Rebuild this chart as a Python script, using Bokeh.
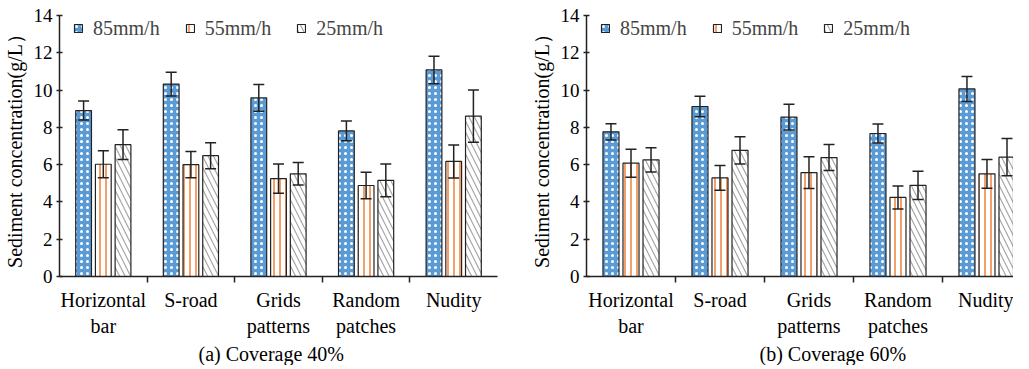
from bokeh.plotting import figure
from bokeh.models import (Range1d, FixedTicker, Whisker, TeeHead, ColumnDataSource,
                          Legend, LegendItem, LinearAxis, Title)
from bokeh.layouts import row
from bokeh.embed import file_html
from bokeh.resources import INLINE

# ---------------- data ----------------
categories = ["Horizontal\nbar", "S-road", "Grids\npatterns", "Random\npatches", "Nudity"]
series = ["85mm/h", "55mm/h", "25mm/h"]

a85 = [8.9, 10.32, 9.58, 7.81, 11.08]
a85_err = [0.51, 0.64, 0.72, 0.53, 0.74]
a55 = [6.02, 6.0, 5.25, 4.88, 6.17]
a55_err = [0.72, 0.7, 0.78, 0.71, 0.88]
a25 = [7.07, 6.48, 5.51, 5.16, 8.6]
a25_err = [0.8, 0.7, 0.6, 0.88, 1.4]

b85 = [7.76, 9.12, 8.55, 7.67, 10.06]
b85_err = [0.44, 0.55, 0.69, 0.51, 0.67]
b55 = [6.08, 5.29, 5.57, 4.24, 5.51]
b55_err = [0.75, 0.66, 0.85, 0.62, 0.77]
b25 = [6.26, 6.77, 6.38, 4.89, 6.4]
b25_err = [0.65, 0.73, 0.7, 0.76, 1.0]

titles = ["(a) Coverage 40%", "(b) Coverage 60%"]

FONT = "Liberation Serif"
BLUE = "#5b9bd5"
ORANGE = "#f4a06a"
GRAY = "#a6a6a6"
INK = "#222222"

styles = [
    dict(fill_color=BLUE, hatch_pattern="dot", hatch_color="white", hatch_scale=6, hatch_weight=0.9),
    dict(fill_color="white", hatch_pattern="vertical_line", hatch_color=ORANGE, hatch_scale=6, hatch_weight=2.0),
    dict(fill_color="white", hatch_pattern="left_diagonal_line", hatch_color=GRAY, hatch_scale=11, hatch_weight=1.2),
]
offsets = [-0.225, 0.0, 0.225]


def panel(vals, errs, title, width, border_left, border_right, xend, title_offset):
    p = figure(width=width, height=365, x_range=Range1d(0, xend), y_range=Range1d(0, 14),
               output_backend="svg", toolbar_location=None,
               min_border_left=border_left, min_border_right=border_right,
               min_border_top=15, min_border_bottom=86)
    p.outline_line_color = None
    p.xgrid.visible = False
    p.ygrid.visible = False

    items = []
    for k in range(3):
        xs = [i + 0.5 + offsets[k] for i in range(5)]
        src = ColumnDataSource(dict(x=xs, top=vals[k],
                                    upper=[v + e for v, e in zip(vals[k], errs[k])],
                                    lower=[v - e for v, e in zip(vals[k], errs[k])]))
        r = p.vbar(x="x", top="top", bottom=0, width=0.18, source=src,
                   line_color=INK, line_width=1.2, **styles[k])
        items.append(LegendItem(label=series[k], renderers=[r]))
        w = Whisker(base="x", upper="upper", lower="lower", source=src, level="annotation",
                    line_color=INK, line_width=1.5,
                    upper_head=TeeHead(size=11, line_color=INK, line_width=1.5),
                    lower_head=TeeHead(size=11, line_color=INK, line_width=1.5))
        p.add_layout(w)

    leg = Legend(items=items, orientation="horizontal", location=(14, 236),
                 background_fill_alpha=0, border_line_color=None,
                 label_text_font=FONT, label_text_font_size="20px",
                 label_height=24, label_text_baseline="middle",
                 glyph_width=10, glyph_height=10, label_standoff=10, spacing=25,
                 padding=0, margin=0)
    p.add_layout(leg, "center")

    # y axis
    p.yaxis.ticker = FixedTicker(ticks=[0, 2, 4, 6, 8, 10, 12, 14])
    p.yaxis.axis_label = "Sediment concentration(g/L\uff09"
    p.yaxis.axis_label_text_font = FONT
    p.yaxis.axis_label_text_font_style = "normal"
    p.yaxis.axis_label_text_font_size = "20px"
    p.yaxis.axis_label_text_color = "black"
    p.yaxis.axis_label_standoff = 5
    p.yaxis.major_label_text_font = FONT
    p.yaxis.major_label_text_font_size = "19px"
    p.yaxis.major_label_text_color = "black"
    p.yaxis.major_tick_in = 3
    p.yaxis.major_tick_out = 3
    p.yaxis.minor_tick_line_color = None
    p.yaxis.major_label_standoff = 4

    # x axis with boundary ticks (no labels)
    p.xaxis.ticker = FixedTicker(ticks=[1, 2, 3, 4])
    p.xaxis.major_label_overrides = {1: "", 2: "", 3: "", 4: ""}
    p.xaxis.major_label_standoff = 0
    p.xaxis.major_tick_in = 0
    p.xaxis.major_tick_out = 6
    p.xaxis.minor_tick_line_color = None
    for ax in (p.xaxis, p.yaxis):
        ax.axis_line_color = INK
        ax.axis_line_width = 1.5
        ax.major_tick_line_color = INK
        ax.major_tick_line_width = 1.5

    # category label axis
    cat_axis = LinearAxis(ticker=FixedTicker(ticks=[i + 0.5 for i in range(5)]),
                          major_label_overrides={i + 0.5: categories[i] for i in range(5)},
                          axis_line_color=None, major_tick_line_color=None,
                          minor_tick_line_color=None, major_label_standoff=0,
                          major_label_text_font=FONT, major_label_text_font_size="20px",
                          major_label_text_color="black")
    p.add_layout(cat_axis, "below")

    t = Title(text=title, align="left", offset=title_offset, text_font=FONT,
              text_font_size="20px", text_font_style="normal", text_color="black",
              standoff=2)
    p.add_layout(t, "below")
    return p


p1 = panel([a85, a55, a25], [a85_err, a55_err, a25_err], titles[0], 507, 52, 10, 5.0, 139)
p2 = panel([b85, b55, b25], [b85_err, b55_err, b25_err], titles[1], 506, 79, 0, 4.798, 173)

layout = row(p1, p2, spacing=0)
open("out.html", "w").write(file_html(layout, INLINE))
